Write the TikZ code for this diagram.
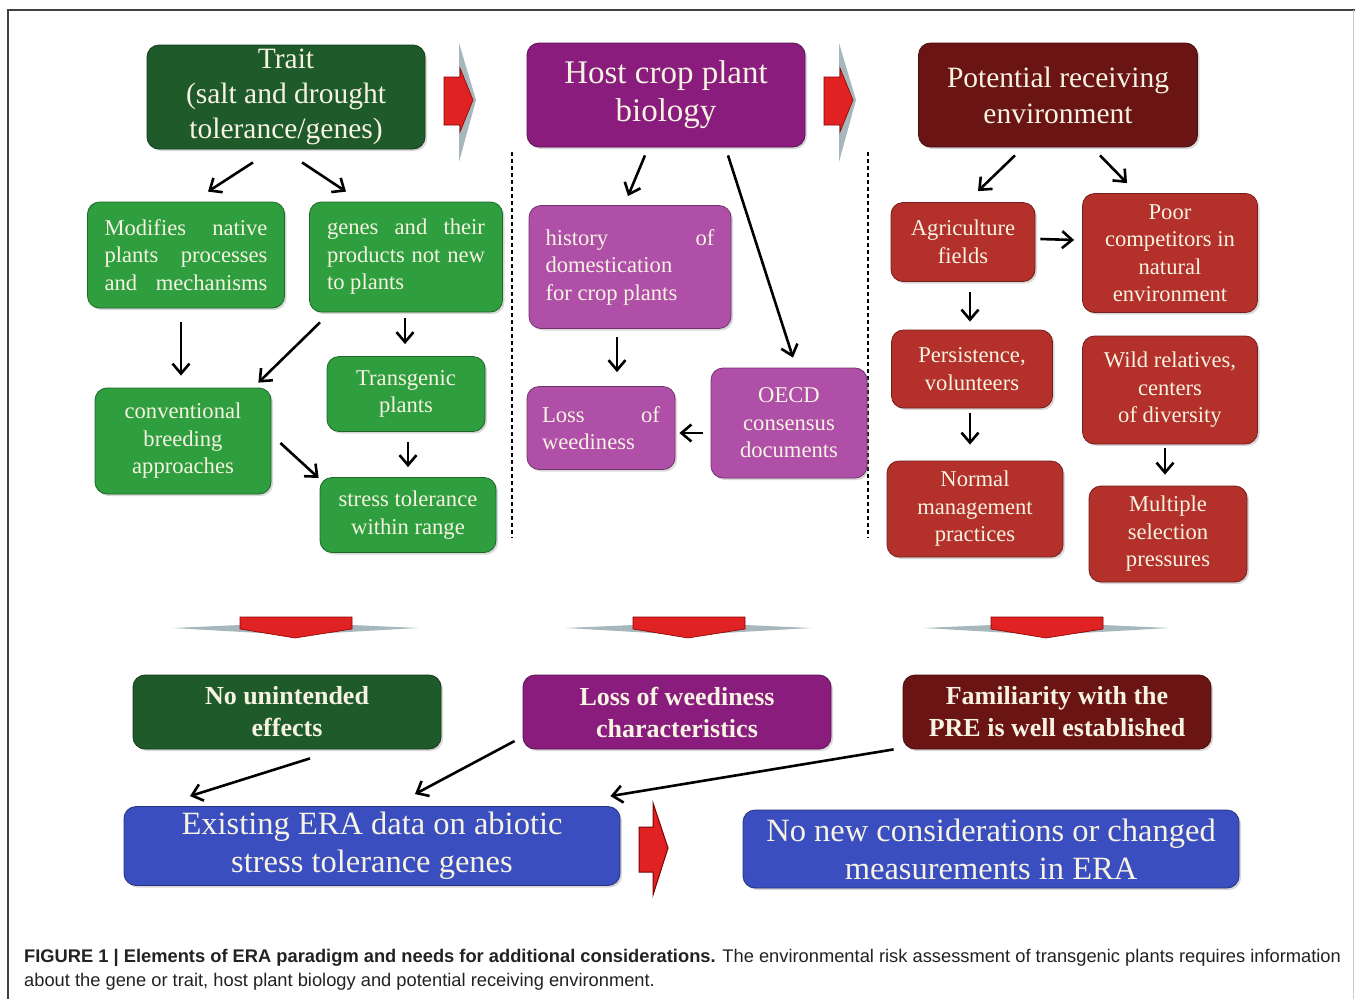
\documentclass[tikz,border=0pt]{standalone}
\usepackage{fontspec}
\setmainfont{Liberation Serif}
\setsansfont{Liberation Sans}
\usetikzlibrary{shapes.geometric, arrows.meta, positioning, shadows}

\definecolor{traitgreen}{HTML}{1F5A2A}
\definecolor{boxgreen}{HTML}{2E9E3E}
\definecolor{hostpurple}{HTML}{8A1C7E}
\definecolor{boxpurple}{HTML}{B04FA8}
\definecolor{envred}{HTML}{6A1414}
\definecolor{boxred}{HTML}{B3302B}
\definecolor{erablue}{HTML}{3A4EBF}
\definecolor{wingblue}{HTML}{A7B8BC}
\definecolor{arrowred}{HTML}{E02222}
\definecolor{boxtext}{HTML}{F6F3E2}
\definecolor{captext}{HTML}{222222}

% one justified line of fixed width
\newcommand{\jline}[2]{\makebox[#1][s]{#2}}

\begin{document}
\begin{tikzpicture}[x=1pt, y=-1pt,
  box/.style={rectangle, rounded corners=12pt, draw=#1!65!black, line width=0.8pt, fill=#1, text=boxtext, inner sep=0pt, align=center, drop shadow={opacity=0.3, shadow xshift=2pt, shadow yshift=-2pt}},
  arr/.style={-{Straight Barb[length=10pt, width=17pt]}, line width=2.6pt},
  smalltext/.style={font=\fontsize{22.6}{27.5}\selectfont},
  boldtext/.style={font=\bfseries\fontsize{26}{32}\selectfont},
  bluetext/.style={font=\fontsize{32.5}{38}\selectfont}]

\useasboundingbox[fill=white] (0,0) rectangle (1355,999);
\draw[line width=1.5pt, black!75] (8,999) -- (8,10) -- (1355,10);
\draw[black!20] (1353,10) -- (1353,999);

% top row
\node[box=traitgreen, minimum width=278pt, minimum height=104pt, font=\fontsize{29.5}{35}\selectfont] (trait) at (286,97) {Trait\\(salt and drought\\tolerance/genes)};
\node[box=hostpurple, minimum width=278pt, minimum height=104pt, font=\fontsize{33}{38}\selectfont] (host) at (666,95) {Host crop plant\\biology};
\node[box=envred, minimum width=279pt, minimum height=104pt, font=\fontsize{29.5}{36}\selectfont] (pre) at (1058,95) {Potential receiving\\environment};

\foreach \dx in {0,380} {
  \fill[wingblue] (459+\dx,43) -- (476+\dx,100) -- (459+\dx,162) -- cycle;
  \filldraw[fill=arrowred, draw=red!55!black, line width=0.6pt] (444+\dx,77) -- (460+\dx,77) -- (460+\dx,68) -- (473+\dx,100) -- (460+\dx,132) -- (460+\dx,125) -- (444+\dx,125) -- cycle;
}

\draw[dashed, line width=1.2pt, dash pattern=on 4pt off 3pt] (512,152) -- (512,538);
\draw[dashed, line width=1.2pt, dash pattern=on 4pt off 3pt] (868,152) -- (868,538);

% trait column
\node[box=boxgreen, smalltext, minimum width=197pt, minimum height=106pt] (mod) at (186,255) {\jline{163pt}{Modifies native}\\\jline{163pt}{plants processes}\\\jline{163pt}{and mechanisms}};
\node[box=boxgreen, smalltext, minimum width=193pt, minimum height=110pt, align=left] (genes) at (406,257) {\jline{158pt}{genes and their}\\\jline{158pt}{products not new}\\to plants};
\node[box=boxgreen, smalltext, minimum width=176pt, minimum height=106pt] (conv) at (183,441) {conventional\\breeding\\approaches};
\node[box=boxgreen, smalltext, minimum width=158pt, minimum height=75pt] (trans) at (406,394) {Transgenic\\plants};
\node[box=boxgreen, smalltext, minimum width=176pt, minimum height=75pt] (stress) at (408,515) {stress tolerance\\within range};

\draw[arr] ([xshift=-33pt,yshift=-13pt]trait.south) -- ([xshift=22pt,yshift=10pt]mod.north);
\draw[arr] ([xshift=16pt,yshift=-13pt]trait.south) -- ([xshift=-60pt,yshift=10pt]genes.north);
\draw[arr] ([xshift=-5pt,yshift=-14pt]mod.south) -- ([xshift=-2pt,yshift=12pt]conv.north);
\draw[arr] ([xshift=-86pt,yshift=-10pt]genes.south) -- ([xshift=-13pt,yshift=5pt]conv.north east);
\draw[arr] ([xshift=-1pt,yshift=-6pt]genes.south) -- ([xshift=-1pt,yshift=12pt]trans.north);
\draw[arr] ([xshift=2pt,yshift=-10pt]trans.south) -- ([yshift=10pt]stress.north);
\draw[arr] ([xshift=9pt,yshift=-2pt]conv.east) -- ([xshift=-1pt,yshift=37pt]stress.west);

% host column
\node[box=boxpurple, smalltext, minimum width=202pt, minimum height=123pt, align=left] (hist) at (630,267) {\jline{169pt}{history \hfill of}\\domestication\\for crop plants};
\node[box=boxpurple, smalltext, minimum width=148pt, minimum height=83pt, align=left] (loss) at (601,428) {\jline{118pt}{Loss \hfill of}\\weediness};
\node[box=boxpurple, smalltext, minimum width=156pt, minimum height=110pt] (oecd) at (789,423) {OECD\\consensus\\documents};

\draw[arr] ([xshift=-21pt,yshift=-8pt]host.south) -- ([xshift=-2pt,yshift=9pt]hist.north);
\draw[arr] ([xshift=62pt,yshift=-8pt]host.south) -- ([xshift=4pt,yshift=10pt]oecd.north);
\draw[arr] ([xshift=-13pt,yshift=-8pt]hist.south) -- ([xshift=16pt,yshift=14pt]loss.north);
\draw[arr] ([xshift=-8pt,yshift=-10pt]oecd.west) -- ([xshift=4pt,yshift=-5pt]loss.east);

% environment column
\node[box=boxred, smalltext, minimum width=144pt, minimum height=79pt] (agri) at (963,242) {Agriculture\\fields};
\node[box=boxred, smalltext, minimum width=175pt, minimum height=119pt] (poor) at (1170,253) {Poor\\competitors in\\natural\\environment};
\node[box=boxred, smalltext, minimum width=161pt, minimum height=78pt] (pers) at (972,369) {Persistence,\\volunteers};
\node[box=boxred, smalltext, minimum width=175pt, minimum height=108pt] (wild) at (1170,390) {Wild relatives,\\centers\\of diversity};
\node[box=boxred, smalltext, minimum width=176pt, minimum height=96pt] (norm) at (975,509) {Normal\\management\\practices};
\node[box=boxred, smalltext, minimum width=158pt, minimum height=96pt] (mult) at (1168,534) {Multiple\\selection\\pressures};

\draw[arr] ([xshift=-43pt,yshift=-8pt]pre.south) -- ([xshift=15pt,yshift=11pt]agri.north);
\draw[arr] ([xshift=42pt,yshift=-8pt]pre.south) -- ([xshift=-43pt,yshift=10pt]poor.north);
\draw[arr] ([xshift=5pt,yshift=3pt]agri.east) -- ([xshift=-8pt,yshift=13pt]poor.west);
\draw[arr] ([xshift=7pt,yshift=-10pt]agri.south) -- ([xshift=-2pt,yshift=8pt]pers.north);
\draw[arr] ([xshift=-2pt,yshift=-5pt]pers.south) -- ([xshift=-5pt,yshift=16pt]norm.north);
\draw[arr] ([xshift=-5pt,yshift=-4pt]wild.south) -- ([xshift=-3pt,yshift=11pt]mult.north);

% down arrows
\foreach \cx in {295,688,1046} {
  \fill[wingblue] (\cx-122,628) -- (\cx-55,625) -- (\cx+57,625) -- (\cx+123,628) -- (\cx,635) -- cycle;
  \filldraw[fill=arrowred, draw=red!55!black, line width=0.6pt] (\cx-55,617) -- (\cx+57,617) -- (\cx+57,629) -- (\cx,638) -- (\cx-55,629) -- cycle;
}

% conclusions
\node[box=traitgreen, boldtext, minimum width=308pt, minimum height=74pt] (nounint) at (287,712) {No unintended\\effects};
\node[box=hostpurple, boldtext, minimum width=308pt, minimum height=74pt] (lossw) at (677,712) {Loss of weediness\\characteristics};
\node[box=envred, boldtext, minimum width=308pt, minimum height=74pt] (famil) at (1057,712) {Familiarity with the\\PRE is well established};

\node[box=erablue, bluetext, minimum width=496pt, minimum height=79pt] (exist) at (372,846) {Existing ERA data on abiotic\\stress tolerance genes};
\node[box=erablue, bluetext, minimum width=496pt, minimum height=78pt] (nonew) at (991,849) {No new considerations or changed\\measurements in ERA};

\draw[arr] ([xshift=23pt,yshift=-9pt]nounint.south) -- ([xshift=-182pt,yshift=10pt]exist.north);
\draw[arr] ([xshift=-8pt,yshift=-29pt]lossw.west) -- ([xshift=43pt,yshift=12pt]exist.north);
\draw[arr] ([xshift=-9pt]famil.south west) -- ([xshift=-10pt,yshift=10pt]exist.north east);

\filldraw[fill=arrowred, draw=red!50!black, line width=1pt] (639,827) -- (653,827) -- (653,803) -- (668,848) -- (653,895) -- (653,872) -- (639,872) -- cycle;

% caption
\node[anchor=base west, inner sep=0pt, text=captext, font=\sffamily\fontsize{18.3}{25}\selectfont] (cap1) at (24,962) {\textbf{FIGURE 1 | Elements of ERA paradigm and needs for additional considerations.} The environmental risk assessment of transgenic plants requires information};
\node[anchor=base west, inner sep=0pt, text=captext, font=\sffamily\fontsize{18.3}{25}\selectfont] (cap2) at (24,986) {about the gene or trait, host plant biology and potential receiving environment.};
\end{tikzpicture}
\end{document}
